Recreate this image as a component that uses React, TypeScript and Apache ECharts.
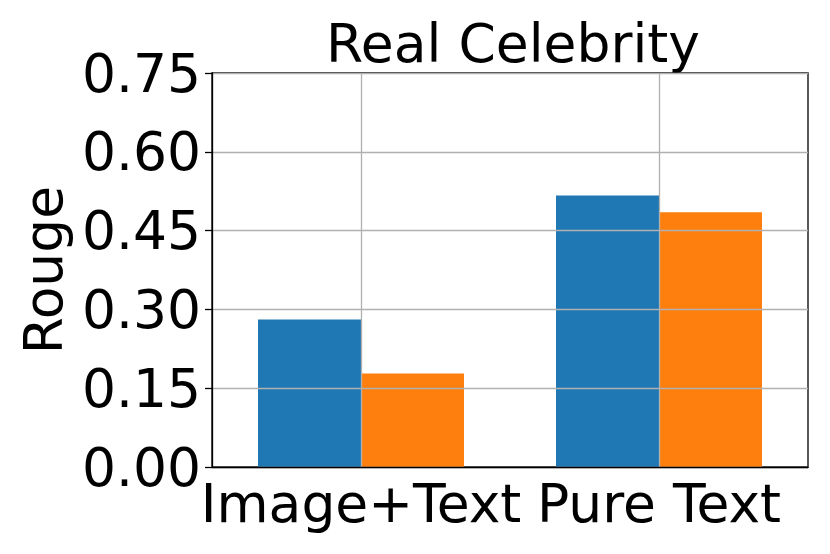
import React, { useEffect, useRef } from "react";
import * as echarts from "echarts";

const categories = ["Image+Text", "Pure Text"];
const seriesBlue = [0.281, 0.517];
const seriesOrange = [0.178, 0.485];
const yMin = 0;
const yMax = 0.75;
const yStep = 0.15;
const helperCats = ["a", "b", "c", "d", "e"];
const titleText = "Real Celebrity";
const yName = "Rouge";

const FONT = "DejaVu Sans";
const FS = 53.5;

export default function App() {
  const ref = useRef<HTMLDivElement>(null);
  useEffect(() => {
    if (!ref.current) return;
    const chart = echarts.init(ref.current, undefined, { renderer: "svg" });
    const gridLeft = 212;
    const gridRight = 22;
    const gridWidth = 830 - gridLeft - gridRight;
    chart.setOption({
      animation: false,
      backgroundColor: "#ffffff",
      textStyle: { fontFamily: FONT },
      grid: {
        left: gridLeft,
        right: gridRight,
        top: 73,
        bottom: 87,
        show: true,
        borderColor: "#000",
        borderWidth: 1.3,
        backgroundColor: "transparent",
      },
      graphic: [
        {
          type: "text",
          x: gridLeft + gridWidth / 2 + 3,
          y: 43,
          style: {
            text: titleText,
            fontSize: FS,
            fontFamily: FONT,
            fill: "#000",
            textAlign: "center",
            textVerticalAlign: "middle",
            verticalAlign: "middle",
          },
        },
      ],
      xAxis: [
        {
          type: "category",
          data: categories,
          z: 5,
          axisLine: { lineStyle: { color: "#000", width: 1.3 } },
          axisTick: { alignWithLabel: true, length: 7, lineStyle: { color: "#000", width: 1.3 } },
          axisLabel: {
            color: "#000",
            fontSize: FS,
            fontFamily: FONT,
            margin: 36,
            verticalAlign: "middle",
            interval: 0,
          },
          splitLine: { show: false },
        },
        {
          type: "category",
          data: helperCats,
          boundaryGap: false,
          position: "bottom",
          z: 5,
          axisLine: { show: false },
          axisTick: { show: false },
          axisLabel: { show: false },
          splitLine: {
            show: true,
            interval: (index: number) => index === 1 || index === 3,
            lineStyle: { color: "#b0b0b0", width: 1.3 },
          },
        },
      ],
      yAxis: {
        type: "value",
        min: yMin,
        max: yMax,
        interval: yStep,
        z: 5,
        name: yName,
        nameLocation: "middle",
        nameRotate: 90,
        nameGap: 135,
        nameTextStyle: { fontSize: FS, fontFamily: FONT, color: "#000" },
        axisLine: { show: true, lineStyle: { color: "#000", width: 1.3 } },
        axisTick: { show: true, length: 7, lineStyle: { color: "#000", width: 1.3 } },
        axisLabel: {
          color: "#000",
          fontSize: FS,
          fontFamily: FONT,
          margin: 11,
          formatter: (v: number) => v.toFixed(2),
        },
        splitLine: { show: true, lineStyle: { color: "#b0b0b0", width: 1.3 } },
      },
      series: [
        {
          type: "bar",
          data: seriesBlue,
          xAxisIndex: 0,
          barWidth: 103,
          barGap: "0%",
          itemStyle: { color: "#1f77b4" },
        },
        {
          type: "bar",
          data: seriesOrange,
          xAxisIndex: 0,
          barWidth: 103,
          barGap: "0%",
          itemStyle: { color: "#ff7f0e" },
        },
      ],
    });
    return () => chart.dispose();
  }, []);
  return (
    <div
      ref={ref}
      style={{ position: "absolute", left: 0, top: 0, width: 830, height: 554 }}
    />
  );
}
